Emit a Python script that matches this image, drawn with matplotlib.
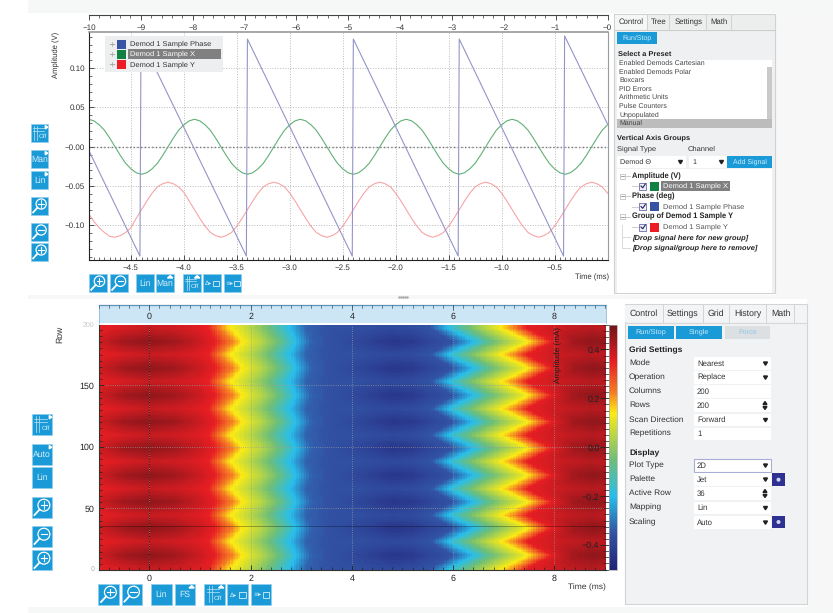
import numpy as np
import matplotlib
matplotlib.use("Agg")
import matplotlib.pyplot as plt
from matplotlib.colors import LinearSegmentedColormap
from matplotlib.patches import Rectangle, Circle
from matplotlib.ticker import MultipleLocator

W, H = 833, 613
plt.rcParams['font.family'] = ['Liberation Sans', 'DejaVu Sans']
plt.rcParams['text.hinting'] = 'no_hinting'

#### data, top plot ####
wave_time = [-4.90, -4.85, -4.80, -4.75, -4.70, -4.65, -4.60, -4.55, -4.50, -4.45,
             -4.40, -4.35, -4.30, -4.25, -4.20, -4.15, -4.10, -4.05, -4.00, -3.95,
             -3.90, -3.85, -3.80, -3.75, -3.70, -3.65, -3.60, -3.55, -3.50, -3.45,
             -3.40, -3.35, -3.30, -3.25, -3.20, -3.15, -3.10, -3.05, -3.00, -2.95,
             -2.90, -2.85, -2.80, -2.75, -2.70, -2.65, -2.60, -2.55, -2.50, -2.45,
             -2.40, -2.35, -2.30, -2.25, -2.20, -2.15, -2.10, -2.05, -2.00, -1.95,
             -1.90, -1.85, -1.80, -1.75, -1.70, -1.65, -1.60, -1.55, -1.50, -1.45,
             -1.40, -1.35, -1.30, -1.25, -1.20, -1.15, -1.10, -1.05, -1.00, -0.95,
             -0.90, -0.85, -0.80, -0.75, -0.70, -0.65, -0.60, -0.55, -0.50, -0.45,
             -0.40, -0.35, -0.30, -0.25, -0.20, -0.15, -0.10, -0.05, 0.00]
sample_x = [.035, .033, .028, .021, .011, .000, -.011, -.021, -.028, -.033,
            -.035, -.033, -.028, -.021, -.011, .000, .011, .021, .028, .033,
            .035, .033, .028, .021, .011, .000, -.011, -.021, -.028, -.033,
            -.035, -.033, -.028, -.021, -.011, .000, .011, .021, .028, .033,
            .035, .033, .028, .021, .011, .000, -.011, -.021, -.028, -.033,
            -.035, -.033, -.028, -.021, -.011, .000, .011, .021, .028, .033,
            .035, .033, .028, .021, .011, .000, -.011, -.021, -.028, -.033,
            -.035, -.033, -.028, -.021, -.011, .000, .011, .021, .028, .033,
            .035, .033, .028, .021, .011, .000, -.011, -.021, -.028, -.033,
            -.035, -.033, -.028, -.021, -.011, .000, .011, .021, .028]
sample_y = [-.085, -.095, -.103, -.109, -.114, -.115, -.113, -.109, -.103, -.091,
            -.080, -.069, -.059, -.051, -.047, -.045, -.047, -.051, -.058, -.069,
            -.080, -.091, -.101, -.109, -.113, -.115, -.113, -.109, -.101, -.091,
            -.080, -.069, -.059, -.051, -.047, -.045, -.047, -.051, -.059, -.069,
            -.080, -.091, -.101, -.109, -.113, -.115, -.113, -.109, -.101, -.091,
            -.080, -.069, -.059, -.051, -.047, -.045, -.047, -.051, -.059, -.069,
            -.080, -.091, -.101, -.109, -.113, -.115, -.113, -.109, -.101, -.091,
            -.080, -.069, -.059, -.051, -.047, -.045, -.047, -.051, -.059, -.069,
            -.080, -.091, -.101, -.109, -.113, -.115, -.113, -.109, -.101, -.091,
            -.080, -.069, -.059, -.051, -.047, -.045, -.047, -.051, -.059]
# the phase trace is a sawtooth, so only its corners are needed
phase_time = [-4.90, -4.415, -4.405, -3.41, -3.40, -2.41, -2.40, -1.41, -1.40, -0.415, -0.405, 0.0]
phase_val = [-.004, -.139, .137, -.139, .137, -.139, .137, -.139, .137, -.139, .141, .029]

top_ruler_ticks = [-10, -9, -8, -7, -6, -5, -4, -3, -2, -1, 0]
top_x_ticks = [-4.5, -4.0, -3.5, -3.0, -2.5, -2.0, -1.5, -1.0, -0.5, 0.0]
top_y_ticks = [-0.10, -0.05, 0.0, 0.05, 0.10]

#### data, heat map ####
# colour edges read along the rows where the chevrons point right (peak) and left (valley),
# the same edge has the same index in all four lists
edge_t_peak = [-1, -.5, 0, .5, 1.0, 1.3, 1.65, 1.85, 2.2, 2.55, 2.9, 3.2, 3.6, 4.0, 4.8, 5.2,
               6.0, 6.42, 6.8, 7.5, 7.7, 7.95, 8.4, 8.8, 9.03]
edge_t_valley = [-1, -.5, 0, .5, 1.0, 1.15, 1.4, 1.6, 2.0, 2.35, 2.77, 3.1, 3.6, 4.0, 4.8, 5.2,
                 5.55, 5.9, 6.3, 6.95, 7.2, 7.45, 8.2, 8.7, 9.03]
edge_v_peak = [.38, .44, .46, .44, .39, .35, .22, .14, .05, -.05, -.20, -.33, -.36, -.38, -.44, -.43,
               -.35, -.20, -.05, .14, .22, .35, .44, .46, .45]
edge_v_valley = [.35, .37, .39, .38, .36, .35, .22, .14, .05, -.05, -.20, -.33, -.36, -.36, -.38, -.37,
                 -.35, -.20, -.05, .14, .22, .35, .39, .41, .40]
# rows of the dark (1) and pale (0) bands
band_rows = [1, 12, 23, 34, 44.5, 55.5, 66, 77, 88, 98.8, 109.5, 120.5, 131, 142, 153, 164, 175, 185.6, 196.5]
band_level = [0, 1, 0, 1, 0, 1, 0, 1, 0, 1, 0, 1, 0, 1, 0, 1, 0, 1, 0]

heat_x_ticks = [0, 2, 4, 6, 8]
heat_y_ticks = [50, 100, 150]
active_row = 36
bar_ticks = [-0.4, -0.2, 0.0, 0.2, 0.4]

#### data, side panels ####
presets = ['Enabled Demods Cartesian', 'Enabled Demods Polar', 'Boxcars', 'PID Errors',
           'Arithmetic Units', 'Pulse Counters', 'Unpopulated', 'Manual']
grid_labels = ['Mode', 'Operation', 'Columns', 'Rows', 'Scan Direction', 'Repetitions']
grid_values = ['Nearest', 'Replace', '200', '200', 'Forward', '1']
display_labels = ['Plot Type', 'Palette', 'Active Row', 'Mapping', 'Scaling']
display_values = ['2D', 'Jet', '36', 'Lin', 'Auto']

BLUE_BTN = '#1a9ad6'
GRID_C = '#b9b9b9'
TXT = '#333333'

fig = plt.figure(figsize=(W / 100, H / 100), dpi=100, facecolor='white')


def px_axes(left, top, right, bottom, **kw):
    return fig.add_axes([left / W, 1 - bottom / H, (right - left) / W, (bottom - top) / H], **kw)


#### top plot ####
ax = px_axes(89, 32, 607.5, 260)
ax.plot(wave_time, sample_y, color='#f6a5a7', lw=0.8, label='Demod 1 Sample Y')
ax.plot(wave_time, sample_x, color='#62b076', lw=0.8, label='Demod 1 Sample X')
ax.plot(phase_time, phase_val, color='#9494ca', lw=0.8, label='Demod 1 Sample Phase')
ax.set_xlim(-4.896, 0)
ax.set_ylim(-0.144, 0.146)
ax.set_xticks(top_x_ticks)
ax.set_xticklabels(['\u22124.5', '\u22124.0', '\u22123.5', '\u22123.0', '\u22122.5', '\u22122.0',
                    '\u22121.5', '\u22121.0', '\u22120.5', ''])
ax.set_yticks(top_y_ticks)
ax.set_yticklabels(['\u22120.10', '\u22120.05', '\u22120.00', '0.05', '0.10'])
ax.xaxis.set_minor_locator(MultipleLocator(0.05))
ax.yaxis.set_minor_locator(MultipleLocator(0.01))
ax.tick_params(which='major', direction='in', length=3.5, width=0.6, labelsize=5.8, colors='#333333', pad=3)
ax.tick_params(which='minor', direction='in', length=2, width=0.5, colors='#333333')
ax.grid(True, which='major', color=GRID_C, ls=':', lw=0.7)
ax.set_axisbelow(True)
ax.axhline(0, color='#777777', ls=':', lw=1.0, zorder=1)
for side in ['top', 'right']:
    ax.spines[side].set_color('#9a9a9a')
ax.spines['top'].set_linewidth(1.2)
ax.spines['left'].set_color('#222222')
ax.spines['bottom'].set_color('#222222')

# ruler above the plot
ruler = px_axes(89, 14.7, 607.5, 14.8)
ruler.set_xlim(-10, 0)
ruler.set_yticks([])
ruler.set_xticks(top_ruler_ticks)
ruler.set_xticklabels(['\u221210', '\u22129', '\u22128', '\u22127', '\u22126', '\u22125', '\u22124',
                       '\u22123', '\u22122', '\u22121', '\u22120'])
ruler.xaxis.set_minor_locator(MultipleLocator(0.2))
ruler.tick_params(which='major', length=3.5, width=0.6, labelsize=5.8, colors='#333333', pad=3)
ruler.tick_params(which='minor', length=2, width=0.5, colors='#333333')
for side in ['top', 'left', 'right']:
    ruler.spines[side].set_visible(False)
ruler.spines['bottom'].set_color('#444444')

#### heat map ####
jet_like = LinearSegmentedColormap.from_list('jet_like', [
    (0.00, '#232378'), (0.15, '#3253a5'), (0.30, '#28beeb'), (0.45, '#6ebe78'), (0.64, '#fbeb14'),
    (0.72, '#f58223'), (0.85, '#e71e23'), (1.00, '#6e1419')])
col_t = np.linspace(-1, 9.02, 200)
level = np.interp(np.arange(0, 200) + 0.5, band_rows, band_level)
heat = np.zeros((200, 200))
for r in range(200):
    edge_t = level[r] * np.array(edge_t_peak) + (1 - level[r]) * np.array(edge_t_valley)
    edge_v = level[r] * np.array(edge_v_peak) + (1 - level[r]) * np.array(edge_v_valley)
    heat[r] = np.interp(col_t, edge_t, edge_v)

hax = px_axes(98.7, 324.5, 606, 570)
dx = col_t[1] - col_t[0]
mesh = hax.pcolormesh(np.append(col_t, col_t[-1] + dx) - dx / 2, np.arange(0, 201), heat,
                      cmap=jet_like, vmin=-0.502, vmax=0.502, shading='flat', rasterized=True)
hax.set_xlim(-1, 9.02)
hax.set_ylim(0, 199.5)
hax.set_xticks(heat_x_ticks)
hax.set_yticks(heat_y_ticks)
hax.xaxis.set_minor_locator(MultipleLocator(0.2))
hax.yaxis.set_minor_locator(MultipleLocator(5))
hax.tick_params(which='major', direction='in', length=3.5, width=0.6, labelsize=6.4, colors='#222222', pad=3)
hax.tick_params(which='minor', direction='in', length=2.5, width=0.5, colors='#222222')
hax.grid(True, which='major', color='#9c9c9c', ls=':', lw=0.6, alpha=0.9)
hax.axvline(0, color='#3a1010', ls=':', lw=0.7)
hax.axhline(active_row, color='black', lw=0.6, alpha=0.35)
for side in ['top', 'right']:
    hax.spines[side].set_visible(False)
hax.spines['bottom'].set_color('#333333')
hax.spines['left'].set_color('#333333')

cax = px_axes(609.3, 324.5, 617.3, 570)
cb = fig.colorbar(mesh, cax=cax, ticks=bar_ticks)
cb.outline.set_edgecolor('#aaaaaa')
cb.outline.set_linewidth(0.5)
cax.yaxis.set_ticks_position('left')
cax.yaxis.set_minor_locator(MultipleLocator(0.025))
cax.set_yticklabels(['\u22120.4', '\u22120.2', '0.0', '0.2', '0.4'])
cax.tick_params(which='major', direction='out', length=6.5, width=0.6, labelsize=6.4, colors='#222222', pad=0.5)
cax.tick_params(which='minor', direction='out', length=4.5, width=0.5, colors='#222222')

#### overlay in pixel coordinates: background, buttons, panels ####
back = fig.add_axes([0, 0, 1, 1], zorder=-5)
back.set_xlim(0, W)
back.set_ylim(H, 0)
back.axis('off')
back.add_patch(Rectangle((28, 0), W - 28, 13, fc='#f6f7f7', ec='none'))
back.add_patch(Rectangle((28, 295), W - 28, 4, fc='#f6f7f7', ec='none'))
back.add_patch(Rectangle((28, 607), W - 28, 6, fc='#f6f7f7', ec='none'))
back.add_patch(Rectangle((776, 13), W - 776, 282, fc='#f7f7f7', ec='none'))
back.add_patch(Rectangle((807, 299), W - 807, 308, fc='#f7f7f7', ec='none'))

ov = fig.add_axes([0, 0, 1, 1], zorder=10)
ov.set_xlim(0, W)
ov.set_ylim(H, 0)
ov.axis('off')
ov.patch.set_alpha(0)


def box(x0, y0, x1, y1, fc, ec='none', lw=0.6, z=1):
    ov.add_patch(Rectangle((x0, y0), x1 - x0, y1 - y0, fc=fc, ec=ec, lw=lw, zorder=z))


def label(x, y, s, size=5.4, color=TXT, ha='left', z=5, **kw):
    ov.text(x, y, s, fontsize=size, color=color, ha=ha, va='center', zorder=z, **kw)


def magnifier(x0, y0, s, kind):
    # round lens with handle, kind is + - or fit
    cx, cy, r = x0 + s * 0.58, y0 + s * 0.40, s * 0.29
    ov.add_patch(Circle((cx, cy), r, fc='none', ec='white', lw=0.9, zorder=4))
    ov.plot([x0 + s * 0.12, cx - r * 0.72], [y0 + s * 0.88, cy + r * 0.72], color='white', lw=1.3, zorder=4)
    ov.plot([cx - r * 0.55, cx + r * 0.55], [cy, cy], color='white', lw=0.8, zorder=4)
    if kind == '+':
        ov.plot([cx, cx], [cy - r * 0.55, cy + r * 0.55], color='white', lw=0.8, zorder=4)
    if kind == 'fit':
        ov.plot([cx, cx], [cy - r * 0.7, cy + r * 0.7], color='white', lw=0.6, zorder=4)


def button(x0, y0, x1, y1, kind, arrow=None):
    box(x0, y0, x1, y1, BLUE_BTN, ec='#8fd0ee', lw=0.5, z=2)
    s = x1 - x0
    if kind in ('+', '-', 'fit'):
        magnifier(x0, y0, s, kind)
    elif kind == 'off':
        for f in (0.25, 0.4):
            ov.plot([x0 + s * 0.12, x0 + s * 0.72], [y0 + s * f] * 2, color='#bfe6f7', lw=0.5, zorder=4)
        for f in (0.2, 0.35):
            ov.plot([x0 + s * f] * 2, [y0 + s * 0.12, y0 + s * 0.9], color='#bfe6f7', lw=0.5, zorder=4)
        label(x0 + s * 0.66, y0 + s * 0.68, 'Off', size=4.6, color='#d5eefa', ha='center')
    elif kind == 'save1' or kind == 'save2':
        glyph = '\u0394\u25b8' if kind == 'save1' else '\u2261\u25b8'
        label(x0 + s * 0.3, y0 + s * 0.52, glyph, size=4.4, color='#d5eefa', ha='center', family='DejaVu Sans')
        box(x0 + s * 0.58, y0 + s * 0.38, x0 + s * 0.9, y0 + s * 0.68, 'none', ec='#d5eefa', lw=0.6, z=4)
    else:
        label((x0 + x1) / 2, (y0 + y1) / 2 + 0.5, kind, size=6.2, color='#d5eefa', ha='center')
    if arrow == 'right':
        ov.fill([x1 - 3.2, x1 - 0.8, x1 - 3.2], [y0 + 1.5, y0 + 3.2, y0 + 4.9], color='white', zorder=4)
    if arrow == 'up':
        ov.fill([x1 - 6.5, x1 - 3.8, x1 - 1.2], [y0 + 4, y0 + 1.6, y0 + 4], color='white', zorder=4)


def dropdown(x0, y, x1, text, arrow=True, h=12.5, ec='none', tx=None, size=5.6):
    box(x0, y - h / 2, x1, y + h / 2, 'white', ec=ec, lw=0.8, z=2)
    label(x0 + 3 if tx is None else tx, y, text, size=size)
    if arrow:
        ov.fill([x1 - 7.5, x1 - 3.5, x1 - 5.5], [y - 1.5, y - 1.5, y + 1.8], color='#222222', zorder=4)


# legend in the top plot
box(105, 36, 223, 71.5, '#eceeef', z=2)
legend_y = [44, 54, 64.3]
legend_c = ['#3953a4', '#0f8143', '#ed1c24']
legend_t = ['Demod 1 Sample Phase', 'Demod 1 Sample X', 'Demod 1 Sample Y']
box(128, 49.3, 221, 58.8, '#808080', z=3)
for y, c, t, tc in zip(legend_y, legend_c, legend_t, [TXT, 'white', TXT]):
    box(117.5, y - 4.5, 126.5, y + 4.5, c, z=3)
    label(130, y, t, size=5.4, color=tc)
    label(111.5, y, '\u00f7', size=6, color='#8a8a8a', ha='center', family='DejaVu Sans')

# axis captions
label(56.5, 55, 'Amplitude (V)', size=5.5, rotation=90, ha='center')
label(609, 277, 'Time (ms)', size=5.5, ha='right')
label(606, 587, 'Time (ms)', size=6.1, ha='right')
label(59.5, 334, 'Row', size=6.2, rotation=90, ha='center')
label(558, 355, 'Amplitude (mA)', size=5.9, rotation=90, ha='center', color='#1c1c1c')
label(93, 569, '0', size=5, color='#b0b0b0', ha='center')
label(88, 325, '200', size=5, color='#c6c6c6', ha='center')

# ruler band above the heat map
box(98.7, 305, 606, 323, '#cde6f5', z=1)
ov.plot([98.7, 606], [305, 305], color='#5d94b8', lw=0.9, zorder=2)
ov.plot([98.7, 98.7], [305, 323], color='#8fbcd6', lw=0.6, zorder=2)
ov.plot([606, 606], [305, 323], color='#8fbcd6', lw=0.6, zorder=2)
for i in range(51):
    xt = hax.transData.transform((-1 + 0.2 * i, 0))[0]
    ov.plot([xt, xt], [305, 308], color='#40607a', lw=0.5, zorder=3)
for t in [0, 2, 4, 6, 8]:
    xt = hax.transData.transform((t, 0))[0]
    ov.plot([xt, xt], [305, 309.5], color='#40607a', lw=0.6, zorder=3)
    label(xt, 316.5, str(t), size=6.4, ha='center', color='#222222')

# left button columns
button(31, 124, 48.5, 142, 'off', 'right')
button(31, 150, 48.5, 168, 'Man', 'right')
button(31, 171, 48.5, 189, 'Lin', 'right')
button(31, 197, 48.5, 215, 'fit')
button(31, 223, 48.5, 241, '-')
button(31, 243, 48.5, 261, '+')
button(89, 274, 107, 292, '+')
button(110, 274, 128, 292, '-')
button(136, 274, 154, 292, 'Lin')
button(156, 274, 174, 292, 'Man', 'up')
button(183, 274, 201, 292, 'off', 'up')
button(203, 274, 221, 292, 'save1')
button(224, 274, 241.5, 292, 'save2')

button(32, 414, 52.5, 434.5, 'off', 'right')
button(32, 444, 52.5, 465, 'Auto', 'right')
button(32, 467, 52.5, 488, 'Lin')
button(32, 497, 52.5, 518, 'fit')
button(32, 526, 52.5, 547, '-')
button(32, 550, 52.5, 570, '+')
button(98.5, 584, 119, 605, '+')
button(122, 584, 142, 605, '-')
button(151, 584, 172, 605, 'Lin')
button(175, 584, 195.5, 605, 'FS', 'up')
button(204.5, 584, 225, 605, 'off', 'up')
button(227, 584, 248, 605, 'save1')
button(251, 584, 271, 605, 'save2')

# separators between the two plots
for xd in range(399, 408, 2):
    ov.plot([xd], [297], marker='s', ms=0.7, color='#aaaaaa', zorder=3)

#### upper control panel ####
box(614.5, 14, 775.5, 293, '#eff0f1', ec='#cfd1d3', lw=0.8)
box(615, 15, 775, 29, '#eceded', z=1.5)
ov.plot([615, 775], [29.5, 29.5], color='#cccccc', lw=0.8, zorder=2)
for xb in [647, 669, 706, 731]:
    ov.plot([xb, xb], [15, 29], color='#cfd1d3', lw=0.7, zorder=2)
box(615, 15, 647, 30, '#f5f6f6', z=1.6)
for xt, t in zip([619, 651, 675, 710], ['Control', 'Tree', 'Settings', 'Math']):
    label(xt, 22, t, size=5.6)
box(617.5, 32, 657.5, 43.5, BLUE_BTN, z=2)
label(637.5, 38, 'Run/Stop', size=5.0, color='#cdeafa', ha='center')
label(618, 54, 'Select a Preset', size=5.4, weight='bold', color='#222222')
box(617, 60, 772, 127.5, 'white', z=2)
box(767, 67, 772, 127.5, '#c9c9c9', z=3)
box(617, 119, 772, 127.5, '#bcbcbc', z=3)
for y, t in zip([63.3, 71.8, 80.3, 88.9, 97.3, 105.9, 114.5, 123], presets):
    label(619, y, t, size=5.05, color='#444444')
label(617.5, 138, 'Vertical Axis Groups', size=5.4, weight='bold', color='#222222')
label(617.5, 149, 'Signal Type', size=5.4)
label(688, 149, 'Channel', size=5.4)
dropdown(617, 162, 686, 'Demod \u0398', size=5.2)
dropdown(689, 162, 727, '1', size=5.2)
box(727.5, 156, 772, 168, BLUE_BTN, z=2)
label(749.7, 162, 'Add Signal', size=5.0, color='#d5eefa', ha='center')
box(617, 169, 772, 293, 'white', z=2)


def tree_row(y, color, text, selected=False):
    ov.plot([632, 638], [y, y], color='#c4c4c4', lw=0.6, zorder=3)
    box(639.5, y - 3.5, 646.5, y + 3.5, '#eeeef6', ec='#6c6ca8', lw=0.6, z=3)
    ov.plot([641, 642.7, 645.3], [y, y + 1.8, y - 2], color='#222266', lw=0.8, zorder=4)
    box(650, y - 4.5, 659, y + 4.5, color, z=3)
    if selected:
        box(661, y - 4.7, 730, y + 4.7, '#808080', z=3)
    label(663, y, text, size=5.4, color='white' if selected else '#555555')


for y, t in zip([176, 196.3, 216.7], ['Amplitude (V)', 'Phase (deg)', 'Group of Demod 1 Sample Y']):
    box(620, y - 2.5, 625, y + 2.5, 'white', ec='#b8b8b8', lw=0.5, z=3)
    ov.plot([621, 624], [y, y], color='#777777', lw=0.5, zorder=4)
    ov.plot([625, 630], [y, y], color='#c4c4c4', lw=0.6, zorder=3)
    label(632, y, t, size=5.45, weight='bold', color='#222222')
tree_row(186, '#0f8143', 'Demod 1 Sample X', selected=True)
tree_row(206.5, '#3953a4', 'Demod 1 Sample Phase')
tree_row(227, '#ed1c24', 'Demod 1 Sample Y')
label(632, 237.3, '[Drop signal here for new group]', size=5.36, weight='bold', style='italic', color='#222222')
label(632, 247.5, '[Drop signal/group here to remove]', size=5.36, weight='bold', style='italic', color='#222222')
ov.plot([622, 622, 630], [225, 247.5, 247.5], color='#d4d4d4', lw=0.6, zorder=3)
ov.plot([622, 630], [237.3, 237.3], color='#d4d4d4', lw=0.6, zorder=3)

#### lower control panel ####
box(625, 304, 807, 604, '#f0f2f4', ec='#d2d4d6', lw=0.8)
box(625.5, 305, 807, 322, '#f3f4f5', z=1.5)
ov.plot([625, 807], [322.5, 322.5], color='#d8d8d8', lw=0.8, zorder=2)
for xb in [663, 703, 729, 766, 794]:
    ov.plot([xb, xb], [305, 322], color='#d2d4d6', lw=0.7, zorder=2)
for xt, t in zip([630, 667, 708, 734, 771], ['Control', 'Settings', 'Grid', 'History', 'Math']):
    label(xt, 313.5, t, size=6.3)
box(628, 325.5, 674, 338.5, BLUE_BTN, z=2)
box(676.5, 325.5, 722, 338.5, BLUE_BTN, z=2)
box(725, 325.5, 770, 338.5, '#dde0e3', z=2)
label(651, 332.2, 'Run/Stop', size=5.3, color='#cdeafa', ha='center')
label(699.3, 332.2, 'Single', size=5.3, color='#cdeafa', ha='center')
label(747.5, 332.2, 'Force', size=5.3, color='#8cc6e6', ha='center')
label(629, 350.3, 'Grid Settings', size=6.1, weight='bold', color='#222222')
grid_y = [363, 377, 391, 405, 419.5, 433.5]
for y, t, v in zip(grid_y, grid_labels, grid_values):
    label(629, y, t, size=6.0)
    dropdown(694, y + 0.5, 771, v, arrow=t in ['Mode', 'Operation', 'Scan Direction'], tx=697)
label(629, 453, 'Display', size=6.1, weight='bold', color='#222222')
disp_y = [465, 479, 493, 507.5, 522]
for y, t, v in zip(disp_y, display_labels, display_values):
    label(629, y, t, size=6.0)
    dropdown(694, y + 0.5, 771, v, arrow=t != 'Active Row', tx=697,
             ec='#a9add6' if t == 'Plot Type' else 'none')
for y in [405.5, 493.5]:
    ov.fill([763, 767, 765], [y - 1, y - 1, y - 4], color='#222222', zorder=4)
    ov.fill([763, 767, 765], [y + 1, y + 1, y + 4], color='#222222', zorder=4)
for y in [479.7, 522]:
    box(772, y - 6.3, 785, y + 6.3, '#2e3192', z=3)
    ov.add_patch(Circle((778.5, y), 2, fc='#cfd6ee', ec='none', zorder=4))

fig.savefig('out.png', dpi=100)
